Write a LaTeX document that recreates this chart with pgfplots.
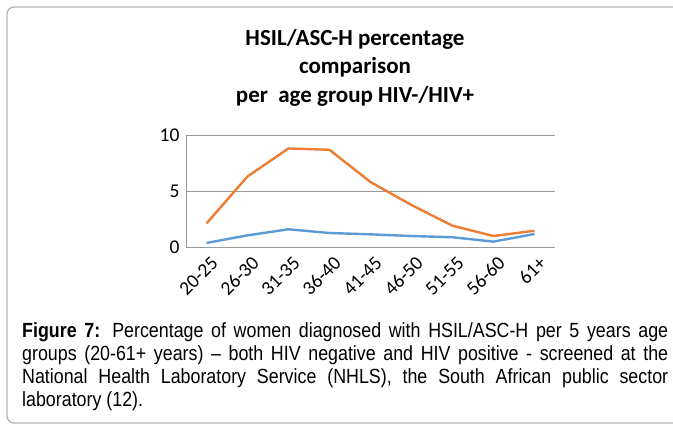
\documentclass[border=0pt]{standalone}
\usepackage{pgfplots}
\pgfplotsset{compat=1.18}
\usepackage{fontspec}
\setmainfont[FakeStretch=0.87]{Liberation Sans}
\newfontfamily\calib{Carlito}
\definecolor{hivneg}{HTML}{5B9BD5}
\definecolor{hivpos}{HTML}{ED7D31}
\definecolor{framegray}{HTML}{B4B4B4}
\begin{document}
\begin{tikzpicture}[x=1pt,y=1pt]
\draw[framegray, line width=1.3pt, rounded corners=7pt] (7,6) rectangle (700,422);
\node[font=\calib\bfseries\fontsize{23}{23}\selectfont, anchor=base] at (355,429-45.7) {HSIL/ASC-H percentage};
\node[font=\calib\bfseries\fontsize{23}{23}\selectfont, anchor=base] at (355,429-73.5) {comparison};
\node[font=\calib\bfseries\fontsize{23}{23}\selectfont, anchor=base] at (355,429-102.7) {per\hspace{0.45em}age group HIV-/HIV+};
\begin{axis}[
  at={(186pt,182pt)}, anchor=south west,
  scale only axis, width=369pt, height=112pt,
  xmin=-0.5, xmax=8.5, ymin=0, ymax=10,
  ytick={0,5,10}, xtick={0,...,8},
  xticklabels={20-25,26-30,31-35,36-40,41-45,46-50,51-55,56-60,61+},
  axis x line*=bottom, axis y line*=left,
  axis line style={draw=gray!80, line width=0.8pt},
  ymajorgrids, grid style={draw=gray!80, line width=0.8pt},
  major tick length=0pt,
  tick label style={font=\calib\fontsize{19.5}{19.5}\selectfont},
  /pgf/number format/assume math mode=true,
  yticklabel style={xshift=-3pt},
  xticklabel style={rotate=45, anchor=east, yshift=-15pt, xshift=0pt},
]
\addplot[hivneg, line width=2.4pt, line join=round] coordinates {
(0,0.36) (1,1.04) (2,1.58) (3,1.25) (4,1.13) (5,0.98) (6,0.87) (7,0.48) (8,1.16)};
\addplot[hivpos, line width=2.4pt, line join=round] coordinates {
(0,2.1) (1,6.3) (2,8.8) (3,8.68) (4,5.8) (5,3.75) (6,1.9) (7,0.98) (8,1.45)};
\end{axis}
\begin{scope}[every node/.style={anchor=base west, inner sep=0pt, font=\fontsize{20.5}{23}\selectfont}]
\node at (22,429-337.7) {\makebox[646pt][s]{\textbf{Figure 7:} Percentage of women diagnosed with HSIL/ASC-H per 5 years age}};
\node at (22,429-360.7) {\makebox[646pt][s]{groups (20-61+ years) -- both HIV negative and HIV positive - screened at the}};
\node at (22,429-383.7) {\makebox[646pt][s]{National Health Laboratory Service (NHLS), the South African public sector}};
\node at (22,429-406.7) {laboratory (12).};
\end{scope}
\pgfresetboundingbox
\path[use as bounding box] (0,0) rectangle (673,429);
\end{tikzpicture}
\end{document}
